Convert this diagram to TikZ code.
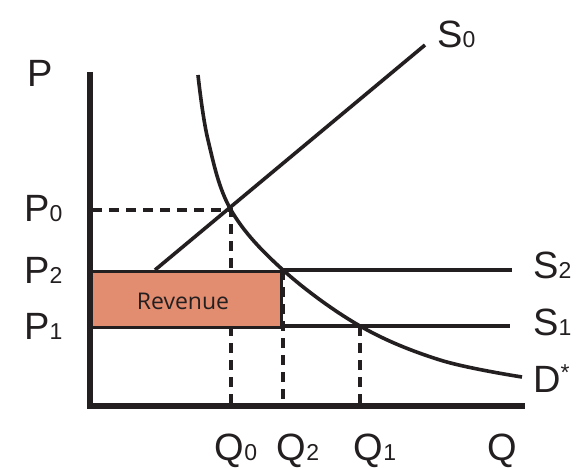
\documentclass[tikz,border=0pt]{standalone}
\usepackage{fontspec}
\setmainfont{Liberation Sans}
\newfontfamily\revfont{Open Sans}
\definecolor{ink}{RGB}{35,31,32}
\definecolor{salmon}{RGB}{226,140,112}
\newcommand{\lab}[2]{{\fontsize{38}{40}\selectfont #1\fontsize{23}{24}\selectfont #2}}
\begin{document}
\begin{tikzpicture}[x=1pt,y=-1pt,
  ax/.style={draw=ink,line width=6pt},
  ln/.style={draw=ink,line width=3.6pt},
  dsh/.style={draw=ink,line width=3.2pt,dash pattern=on 10pt off 7pt},
  txt/.style={text=ink,inner sep=0pt}]
\useasboundingbox (0,0) rectangle (584,468);
% dashed lines
\coordinate (p0) at (92,210);
\coordinate (e0) at (231,210);
\coordinate (q0) at (231,406);
\coordinate (e2) at (283,270);
\coordinate (q2) at (283,406);
\coordinate (e1) at (360,326);
\coordinate (q1) at (360,406);
\draw[dsh] (p0) -- (e0) -- (q0);
\draw[dsh] (e1) -- (q1);
% revenue box
\node[draw=ink,line width=3pt,fill=salmon,minimum width=190pt,minimum height=56pt,anchor=north west,inner sep=0pt] (box) at (90,270) {};
\node[txt,font=\revfont\fontsize{23}{24}\selectfont,text=ink] (rev) at (183,301) {Revenue};
\draw[dsh] (e2) -- (q2);
% supply lines
\coordinate (s0a) at (155,270);
\coordinate (s0b) at (425,45);
\draw[ln] (s0a) -- (s0b);
\coordinate (s2a) at (280,270);
\coordinate (s2b) at (512,270);
\draw[ln] (s2a) -- (s2b);
\coordinate (s1a) at (280,326);
\coordinate (s1b) at (510,326);
\draw[ln] (s1a) -- (s1b);
% demand
\draw[ln] plot[smooth,tension=0.6] coordinates {(198,75) (208,140) (231,210) (283,270) (360,326) (440,360) (522,377)};
% axes
\coordinate (o) at (90,406);
\coordinate (ytop) at (90,72);
\coordinate (xend) at (525,406);
\draw[ax] (ytop) -- (o) -- (xend);
% labels
\node[txt,anchor=base] (P) at (40,87) {\lab{P}{}};
\node[txt,anchor=base west] (P0) at (24,222) {\lab{P}{0}};
\node[txt,anchor=base west] (P2) at (24,283) {\lab{P}{2}};
\node[txt,anchor=base west] (P1) at (24,339) {\lab{P}{1}};
\node[txt,anchor=base] (Q0) at (236,460) {\lab{Q}{0}};
\node[txt,anchor=base] (Q2) at (298,460) {\lab{Q}{2}};
\node[txt,anchor=base] (Q1) at (375,460) {\lab{Q}{1}};
\node[txt,anchor=base] (Q) at (502,460) {\lab{Q}{}};
\node[txt,anchor=base west] (S0) at (437,48) {\lab{S}{0}};
\node[txt,anchor=base west] (S2) at (533,278) {\lab{S}{2}};
\node[txt,anchor=base west] (S1) at (533,335) {\lab{S}{1}};
\node[txt,anchor=base west] (D) at (533,392) {\lab{D}{\raisebox{12pt}{*}}};
\end{tikzpicture}
\end{document}
